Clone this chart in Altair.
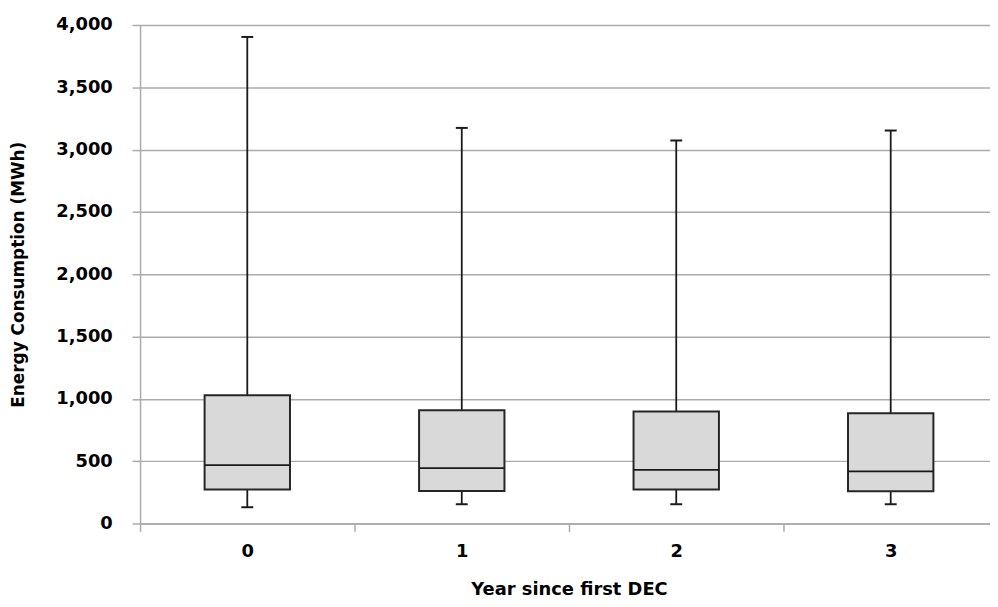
import altair as alt
import pandas as pd

years = ["0", "1", "2", "3"]
whisker_low = [130, 154, 154, 154]
q1 = [273, 260, 273, 258]
median = [468, 444, 430, 417]
q3 = [1028, 908, 898, 884]
whisker_high = [3904, 3174, 3073, 3153]

df = pd.DataFrame({
    "year": years,
    "low": whisker_low,
    "q1": q1,
    "median": median,
    "q3": q3,
    "high": whisker_high,
})

FONT = "DejaVu Sans"
GRID = "#ababab"

x_enc = alt.X(
    "year:N",
    title="Year since first DEC",
    scale=alt.Scale(paddingInner=0, paddingOuter=0),
    axis=alt.Axis(
        labelAngle=0, tickBand="extent", tickSize=8, tickColor=GRID, tickWidth=1.5,
        domainColor=GRID, domainWidth=1.5, labelFont=FONT, labelFontSize=18,
        labelFontWeight="bold", labelColor="#000000", labelPadding=11,
        titleFont=FONT, titleFontSize=18, titleFontWeight="bold", titleColor="#000000",
        titlePadding=21, grid=False,
    ),
)
y_scale = alt.Scale(domain=[0, 4000], nice=False)
y_axis = alt.Axis(
    values=list(range(0, 4001, 500)), format=",.0f", tickSize=8, tickColor=GRID, tickWidth=1.5,
    domainColor=GRID, domainWidth=1.5, gridColor=GRID, gridWidth=1.5,
    labelFont=FONT, labelFontSize=18, labelFontWeight="bold", labelColor="#000000",
    labelPadding=20, titleFont=FONT, titleFontSize=17, titleFontWeight="bold",
    titleColor="#000000", titlePadding=28,
)

base = alt.Chart(df)

whisk = base.mark_rule(color="#1a1a1a", strokeWidth=1.8).encode(
    x=x_enc,
    y=alt.Y("low:Q", scale=y_scale, axis=y_axis, title="Energy Consumption (MWh)"),
    y2="high:Q",
)
box = base.mark_bar(width=86, color="#d9d9d9", stroke="#262626", strokeWidth=2).encode(
    x="year:N", y="q1:Q", y2="q3:Q"
)
med = base.mark_tick(size=86, thickness=1.8, color="#1a1a1a", opacity=1).encode(
    x="year:N", y="median:Q"
)
cap_lo = base.mark_tick(size=12, thickness=2, color="#1a1a1a", opacity=1).encode(
    x="year:N", y="low:Q"
)
cap_hi = base.mark_tick(size=12, thickness=2, color="#1a1a1a", opacity=1).encode(
    x="year:N", y="high:Q"
)

chart = alt.layer(whisk, box, med, cap_lo, cap_hi).properties(
    width=864, height=502,
    autosize=alt.AutoSizeParams(type="none"),
    padding={"left": 133, "top": 15, "right": -8, "bottom": 74},
).configure_view(stroke=None).configure(background="#ffffff")

chart.save("out.html", embed_options={"renderer": "svg", "actions": False})
